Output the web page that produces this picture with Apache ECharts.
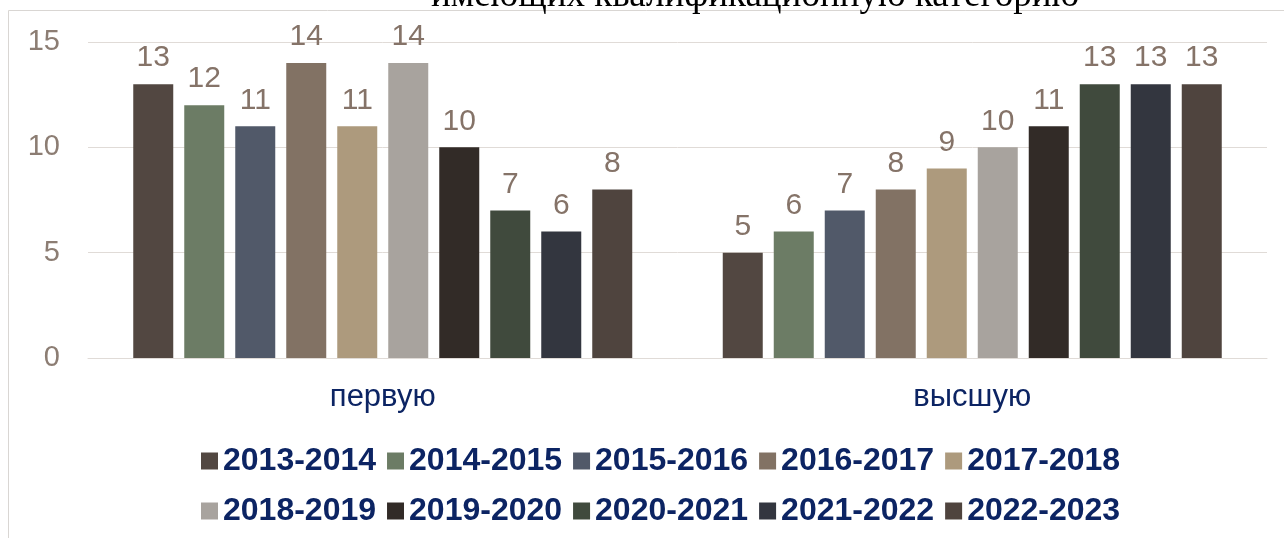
<!DOCTYPE html>
<html>
<head>
<meta charset="UTF-8">
<title></title>
<script src="https://cdn.jsdelivr.net/npm/echarts@6/dist/echarts.min.js"></script>
<style>
  * { padding: 0; margin: 0; }
  #main { width: 1284px; height: 538px; background: #fff; }
</style>
</head>
<body>
<div id="main"></div>
<script>
var categories = ['первую', 'высшую'];
var years = ['2013-2014', '2014-2015', '2015-2016', '2016-2017', '2017-2018',
             '2018-2019', '2019-2020', '2020-2021', '2021-2022', '2022-2023'];
var firstCat = [13, 12, 11, 14, 11, 14, 10, 7, 6, 8];
var highCat = [5, 6, 7, 8, 9, 10, 11, 13, 13, 13];
var colors = ['#524741', '#6c7c65', '#515969', '#827264', '#ad9a7d',
              '#a8a39e', '#322b27', '#404a3d', '#33363f', '#4f443e'];

var myChart = echarts.init(document.getElementById('main'));

var series = years.map(function (y, i) {
  return {
    name: y,
    type: 'bar',
    barWidth: 40,
    barGap: '27.5%',
    data: [firstCat[i], highCat[i]],
    itemStyle: { color: colors[i] },
    label: {
      show: true,
      position: 'top',
      distance: 11,
      color: '#857368',
      fontFamily: 'Arial, Liberation Sans',
      fontSize: 30
    }
  };
});

var legendText = {
  color: '#0c2463',
  fontWeight: 'bold',
  fontFamily: 'Arial, Liberation Sans',
  fontSize: 32
};

myChart.setOption({
  animation: false,
  color: colors,
  title: {
    text: 'имеющих квалификационную категорию',
    left: 750,
    textAlign: 'center',
    top: -27,
    textStyle: {
      color: '#000',
      fontFamily: 'Liberation Serif, Times New Roman',
      fontWeight: 'normal',
      fontSize: 37
    }
  },
  graphic: [{
    type: 'rect',
    shape: { x: 8.5, y: 10.5, width: 1300, height: 600 },
    style: { fill: 'none', stroke: '#d9d6d3', lineWidth: 1 },
    z: -1
  }],
  legend: [{
    data: years.slice(0, 5),
    left: 196,
    top: 440,
    itemWidth: 17,
    itemHeight: 17,
    itemGap: 11,
    icon: 'rect',
    textStyle: legendText
  }, {
    data: years.slice(5),
    left: 196,
    top: 490,
    itemWidth: 17,
    itemHeight: 17,
    itemGap: 11,
    icon: 'rect',
    textStyle: legendText
  }],
  grid: { left: 88, right: 17, top: 42, bottom: 180 },
  xAxis: {
    type: 'category',
    data: categories,
    axisTick: { show: false },
    axisLine: { lineStyle: { color: '#e0dbd7' } },
    axisLabel: {
      color: '#0c2463',
      fontFamily: 'Arial, Liberation Sans',
      fontSize: 31,
      margin: 24
    }
  },
  yAxis: {
    type: 'value',
    min: 0,
    max: 15,
    interval: 5,
    axisLine: { show: false },
    axisTick: { show: false },
    splitLine: { lineStyle: { color: '#e0dbd7', width: 1 } },
    axisLabel: {
      color: '#8c7d73',
      fontFamily: 'Arial, Liberation Sans',
      fontSize: 29,
      margin: 28
    }
  },
  series: series
});
</script>
</body>
</html>
